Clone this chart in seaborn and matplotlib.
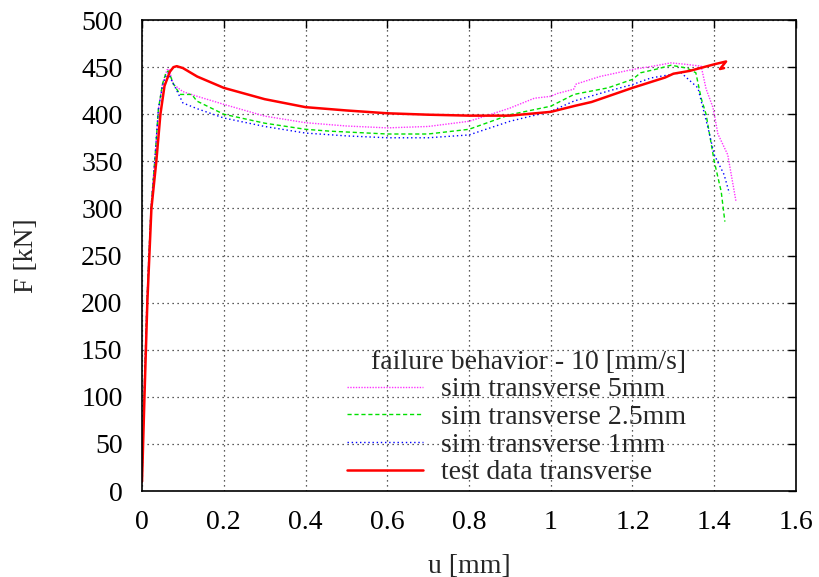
import matplotlib
matplotlib.use("Agg")
import matplotlib.pyplot as plt
import pandas as pd
import seaborn as sns

# sim transverse 5mm
u_5mm = [0.0, 0.005, 0.012, 0.022, 0.032, 0.04, 0.05, 0.061, 0.066, 0.076, 0.1, 0.135,
         0.2, 0.3, 0.4, 0.5, 0.6, 0.7, 0.8, 0.84, 0.9, 0.96, 1.0, 1.016, 1.056, 1.062,
         1.12, 1.2, 1.25, 1.294, 1.33, 1.368, 1.38, 1.397, 1.409, 1.433, 1.453]
F_5mm = [12, 100, 200, 300, 355, 405, 432, 447, 448, 432, 424, 419,
         410.5, 398, 391, 387.5, 385.5, 387, 392.5, 398, 406.5, 417, 419, 422, 426.5, 432,
         440, 447.5, 451, 454.5, 453, 451, 427, 407, 379, 357, 308]

# sim transverse 2.5mm
u_25mm = [0.0, 0.005, 0.012, 0.022, 0.032, 0.04, 0.05, 0.058, 0.064, 0.07, 0.077, 0.093,
          0.122, 0.134, 0.2, 0.3, 0.4, 0.46, 0.6, 0.7, 0.8, 0.9, 1.0, 1.057, 1.08, 1.14,
          1.2, 1.22, 1.26, 1.294, 1.333, 1.355, 1.368, 1.38, 1.4, 1.417, 1.426]
F_25mm = [12, 100, 200, 300, 355, 405, 432, 443, 446, 440, 432, 421,
          421, 414, 400, 390.5, 384, 382, 379, 379, 384, 399.5, 408.5, 421, 423, 428,
          437, 444, 448, 452, 449, 444, 417, 400, 350, 318, 286]

# sim transverse 1mm
u_1mm = [0.0, 0.005, 0.012, 0.022, 0.032, 0.04, 0.05, 0.058, 0.064, 0.07, 0.076, 0.1,
         0.134, 0.2, 0.3, 0.4, 0.5, 0.6, 0.7, 0.8, 0.9, 1.0, 1.057, 1.14, 1.2, 1.245,
         1.319, 1.333, 1.36, 1.385, 1.4, 1.424, 1.437]
F_1mm = [12, 100, 200, 300, 355, 405, 430, 440, 444, 438, 433, 412,
         406, 396, 387, 380, 377, 375, 375, 378, 392.5, 403, 414, 424.5, 431.5, 438.5,
         444, 438.5, 428, 385, 357, 336, 316]

# test data transverse
u_test = [0.0, 0.006, 0.013, 0.023, 0.035, 0.045, 0.055, 0.068, 0.077, 0.085, 0.1, 0.135,
          0.2, 0.3, 0.4, 0.5, 0.6, 0.7, 0.8, 0.9, 1.0, 1.06, 1.1, 1.2, 1.28, 1.3, 1.34,
          1.4, 1.429, 1.414, 1.424]
F_test = [10, 100, 200, 300, 350, 400, 430, 445, 450, 451, 449, 440,
          428, 416, 407.5, 404, 401, 399.5, 398.5, 398.5, 402.5, 409, 413, 428, 439, 443, 446,
          453, 456, 448, 449]

series = [
    ("sim transverse 5mm", u_5mm, F_5mm, "#ff33ff", (0, (1, 1)), 1.0),
    ("sim transverse 2.5mm", u_25mm, F_25mm, "#00e000", (0, (3, 2)), 1.0),
    ("sim transverse 1mm", u_1mm, F_1mm, "#0000ff", (0, (1, 2)), 1.0),
    ("test data transverse", u_test, F_test, "#ff0000", "-", 1.8),
]

sns.set_style("white")
plt.rcParams["font.family"] = ["Liberation Serif", "DejaVu Serif"]

fig = plt.figure(figsize=(8.19, 5.77), dpi=100)
ax = fig.add_axes([0.1734, 0.149, 0.7985, 0.8163])

for name, u, F, color, ls, lw in series:
    df = pd.DataFrame({"u": u, "F": F})
    sns.lineplot(data=df, x="u", y="F", sort=False, estimator=None, ax=ax,
                 color=color, linestyle=ls, linewidth=lw, label=name)

ax.set_xlim(0, 1.6)
ax.set_ylim(0, 500)
ax.set_xticks([0, 0.2, 0.4, 0.6, 0.8, 1, 1.2, 1.4, 1.6])
ax.set_xticklabels(["0", "0.2", "0.4", "0.6", "0.8", "1", "1.2", "1.4", "1.6"])
ax.set_yticks(range(0, 501, 50))
ax.grid(True, color="black", linestyle=(0, (1, 3)), linewidth=0.9, alpha=0.85)
ax.tick_params(direction="in", top=True, right=True, length=6, width=1,
               labelsize=20, colors="black")
ax.tick_params(axis="x", pad=14)
ax.tick_params(axis="y", pad=14)
for sp in ax.spines.values():
    sp.set_color("black")
    sp.set_linewidth(1.2)

ax.set_xlabel("u [mm]", fontsize=20, labelpad=13)
ax.set_ylabel("F [kN]", fontsize=20, labelpad=30)

ax.legend(title="failure behavior - 10 [mm/s]", loc="lower left",
          bbox_to_anchor=(0.313, 0.012), frameon=False, fontsize=20,
          title_fontsize=20, handlelength=2.75, handletextpad=0.65,
          labelspacing=0.08, borderpad=0, borderaxespad=0, alignment="right")

fig.savefig("out.png", dpi=100)
